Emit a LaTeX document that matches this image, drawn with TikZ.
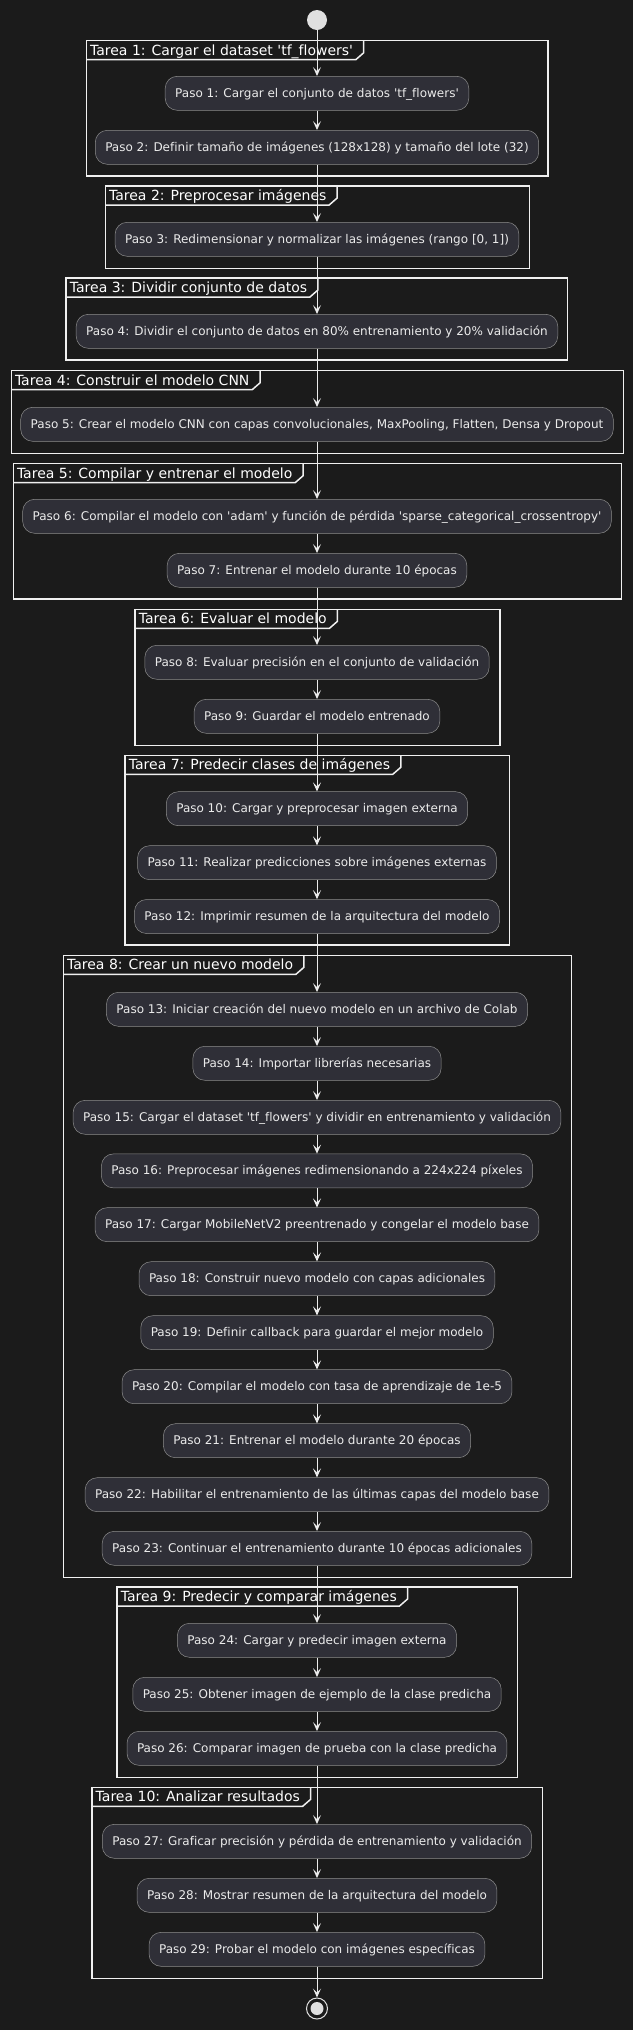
\documentclass[tikz,border=0pt]{standalone}
\usepackage{fontspec}
\setmainfont{DejaVu Sans}[Ligatures={TeXOff,CommonOff}]
\usetikzlibrary{arrows.meta,calc}
\definecolor{bgcol}{RGB}{27,27,27}
\definecolor{boxfill}{RGB}{47,47,55}
\definecolor{boxline}{RGB}{140,140,140}
\definecolor{linecol}{RGB}{235,235,235}
\definecolor{framecol}{RGB}{240,240,240}
\definecolor{txtcol}{RGB}{235,235,235}
\definecolor{dotcol}{RGB}{224,224,224}
\tikzset{
  stepbox/.style={draw=boxline, line width=0.5pt, fill=boxfill, rounded corners=12pt,
    minimum height=34pt, inner xsep=10pt, inner ysep=0pt, text=txtcol,
    font=\fontsize{12}{14}\selectfont, text height=9.5pt, text depth=1.5pt},
  taskframe/.style={draw=framecol, line width=1.5pt},
  tasktitle/.style={anchor=base west, inner sep=0pt, text=white,
    font=\fontsize{14}{16}\selectfont},
  flow/.style={draw=linecol, line width=1pt, -{Stealth[length=9pt,width=8pt,inset=4pt]}},
  startdot/.style={circle, fill=dotcol, minimum size=20pt, inner sep=0pt},
  endring/.style={circle, draw=dotcol, line width=1pt, minimum size=21pt, inner sep=0pt},
  enddot/.style={circle, fill=dotcol, minimum size=13pt, inner sep=0pt},
}
% #1 name, #2 left, #3 right, #4 top, #5 bottom, #6 title
\newcommand{\tareabox}[6]{%
  \draw[taskframe] (#2,#4) rectangle (#3,#5);
  \node[tasktitle] (#1) at (#2+3.5,#4+14.5) {#6};
  \draw[taskframe] (#2,#4+19) -- ($(#1.base east)+(2.5,4.5)$)
    -- ($(#1.base east)+(10.5,-2.5)$) -- ($(#1.base east)+(10.5,-14.5)$);
}
\begin{document}
\begin{tikzpicture}[x=1pt,y=-1pt]
\fill[bgcol] (0,0) rectangle (633,2030);
\useasboundingbox (0,0) rectangle (633,2030);

\tareabox{t1}{86.4}{548.2}{40.7}{176}{Tarea 1: Cargar el dataset 'tf\_flowers'}
\tareabox{t2}{105.4}{529.7}{186}{268.3}{Tarea 2: Preprocesar imágenes}
\tareabox{t3}{66.2}{567.6}{278}{360}{Tarea 3: Dividir conjunto de datos}
\tareabox{t4}{11.3}{623.7}{370.7}{453.3}{Tarea 4: Construir el modelo CNN}
\tareabox{t5}{13.3}{621.7}{463.7}{599}{Tarea 5: Compilar y entrenar el modelo}
\tareabox{t6}{135.2}{499.8}{609.3}{745.3}{Tarea 6: Evaluar el modelo}
\tareabox{t7}{125.2}{509.5}{755.3}{945}{Tarea 7: Predecir clases de imágenes}
\tareabox{t8}{63.4}{571.7}{955.3}{1577.3}{Tarea 8: Crear un nuevo modelo}
\tareabox{t9}{117.1}{517.6}{1587}{1777.7}{Tarea 9: Predecir y comparar imágenes}
\tareabox{t10}{92}{542.6}{1787.3}{1978.3}{Tarea 10: Analizar resultados}

\node[startdot] (start) at (317,20) {};

\node[stepbox] (p1) at (317,93.3) {Paso 1: Cargar el conjunto de datos 'tf\_flowers'};
\node[stepbox] (p2) at (317,147.3) {Paso 2: Definir tamaño de imágenes (128x128) y tamaño del lote (32)};
\node[stepbox] (p3) at (317,239.3) {Paso 3: Redimensionar y normalizar las imágenes (rango [0, 1])};
\node[stepbox] (p4) at (317,331.3) {Paso 4: Dividir el conjunto de datos en 80\% entrenamiento y 20\% validación};
\node[stepbox] (p5) at (317,424.3) {Paso 5: Crear el modelo CNN con capas convolucionales, MaxPooling, Flatten, Densa y Dropout};
\node[stepbox] (p6) at (317,516.3) {Paso 6: Compilar el modelo con 'adam' y función de pérdida 'sparse\_categorical\_crossentropy'};
\node[stepbox] (p7) at (317,570.3) {Paso 7: Entrenar el modelo durante 10 épocas};
\node[stepbox] (p8) at (317,662.3) {Paso 8: Evaluar precisión en el conjunto de validación};
\node[stepbox] (p9) at (317,716.3) {Paso 9: Guardar el modelo entrenado};
\node[stepbox] (p10) at (317,808.7) {Paso 10: Cargar y preprocesar imagen externa};
\node[stepbox] (p11) at (317,862.7) {Paso 11: Realizar predicciones sobre imágenes externas};
\node[stepbox] (p12) at (317,916.5) {Paso 12: Imprimir resumen de la arquitectura del modelo};
\node[stepbox] (p13) at (317,1009.3) {Paso 13: Iniciar creación del nuevo modelo en un archivo de Colab};
\node[stepbox] (p14) at (317,1063.3) {Paso 14: Importar librerías necesarias};
\node[stepbox] (p15) at (317,1117.3) {Paso 15: Cargar el dataset 'tf\_flowers' y dividir en entrenamiento y validación};
\node[stepbox] (p16) at (317,1170.9) {Paso 16: Preprocesar imágenes redimensionando a 224x224 píxeles};
\node[stepbox] (p17) at (317,1224.7) {Paso 17: Cargar MobileNetV2 preentrenado y congelar el modelo base};
\node[stepbox] (p18) at (317,1278.7) {Paso 18: Construir nuevo modelo con capas adicionales};
\node[stepbox] (p19) at (317,1332.7) {Paso 19: Definir callback para guardar el mejor modelo};
\node[stepbox] (p20) at (317,1386.7) {Paso 20: Compilar el modelo con tasa de aprendizaje de 1e-5};
\node[stepbox] (p21) at (317,1440.7) {Paso 21: Entrenar el modelo durante 20 épocas};
\node[stepbox] (p22) at (317,1494.7) {Paso 22: Habilitar el entrenamiento de las últimas capas del modelo base};
\node[stepbox] (p23) at (317,1548.3) {Paso 23: Continuar el entrenamiento durante 10 épocas adicionales};
\node[stepbox] (p24) at (317,1640.3) {Paso 24: Cargar y predecir imagen externa};
\node[stepbox] (p25) at (317,1694.3) {Paso 25: Obtener imagen de ejemplo de la clase predicha};
\node[stepbox] (p26) at (317,1748.3) {Paso 26: Comparar imagen de prueba con la clase predicha};
\node[stepbox] (p27) at (317,1841.3) {Paso 27: Graficar precisión y pérdida de entrenamiento y validación};
\node[stepbox] (p28) at (317,1895.3) {Paso 28: Mostrar resumen de la arquitectura del modelo};
\node[stepbox] (p29) at (317,1949.3) {Paso 29: Probar el modelo con imágenes específicas};

\node[endring] (end) at (317,2008.5) {};
\node[enddot] (endin) at (end) {};

\foreach \a/\b in {start/p1,p1/p2,p2/p3,p3/p4,p4/p5,p5/p6,p6/p7,p7/p8,p8/p9,p9/p10,
  p10/p11,p11/p12,p12/p13,p13/p14,p14/p15,p15/p16,p16/p17,p17/p18,p18/p19,p19/p20,
  p20/p21,p21/p22,p22/p23,p23/p24,p24/p25,p25/p26,p26/p27,p27/p28,p28/p29,p29/end}
  \draw[flow] (\a) -- (\b);
\end{tikzpicture}
\end{document}
